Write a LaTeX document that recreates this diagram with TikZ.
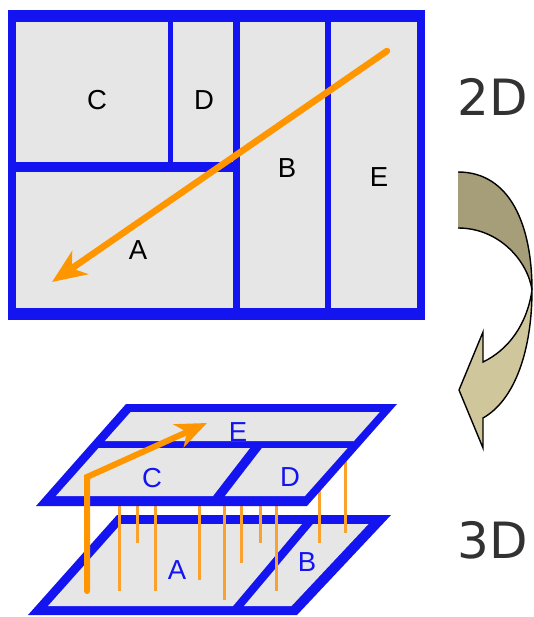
\documentclass[tikz,border=0pt]{standalone}
\usepackage{fontspec}
\setmainfont{Liberation Sans}
\newfontfamily\djv{DejaVu Sans}
\usetikzlibrary{arrows.meta}
\definecolor{pblue}{RGB}{20,20,240}
\definecolor{porange}{RGB}{255,150,0}
\definecolor{plorange}{RGB}{250,162,45}
\definecolor{pgray}{RGB}{230,230,230}
\definecolor{banddark}{RGB}{166,157,121}
\definecolor{bandlight}{RGB}{207,199,155}
\definecolor{dimtext}{RGB}{50,50,50}
\tikzset{
  cell/.style={fill=pgray},
  frame/.style={fill=pblue},
  lab/.style={inner sep=0pt, font=\fontsize{27.5}{27.5}\selectfont},
  lab3/.style={lab, text=pblue},
  biglab/.style={inner sep=0pt, text=dimtext, font=\djv\fontsize{50}{50}\selectfont},
  bigarrow/.style={porange, line width=6.5pt, line cap=round, -{Stealth[length=34pt,width=28pt,inset=10pt]}},
  flatarrow/.style={porange, line width=6pt, line cap=round, line join=miter, -{Stealth[length=31pt,width=25pt,inset=9pt]}},
  pillar/.style={plorange, line width=3pt},
  bandline/.style={black, line width=1.4pt},
}
\begin{document}
\begin{tikzpicture}[x=1pt,y=-1pt]
\useasboundingbox (0,0) rectangle (533,617);
% ---------- 2D map ----------
\fill[frame] (8,10) rectangle (425,320);
\fill[cell] (16,22) rectangle (168,162);
\fill[cell] (173,22) rectangle (233,162);
\fill[cell] (16,172) rectangle (233,308);
\fill[cell] (240,22) rectangle (325,308);
\fill[cell] (331,22) rectangle (417,308);
\node[lab] (tC) at (97,100) {C};
\node[lab] (tD) at (204,100) {D};
\node[lab] (tB) at (287,168) {B};
\node[lab] (tE) at (379,177) {E};
\node[lab] (tA) at (138,250) {A};
\coordinate (tArrS) at (387,51);
\coordinate (tArrE) at (52,282);
\draw[bigarrow] (tArrS) -- (tArrE);
% ---------- curved arrow ----------
\fill[banddark] (458,172) .. controls (510,172) and (532,225) .. (532,290) .. controls (528,262) and (500,228) .. (458,228) -- cycle;
\draw[bandline] (458,172) .. controls (510,172) and (532,225) .. (532,290);
\draw[bandline] (458,228) .. controls (500,228) and (528,262) .. (532,290);
\filldraw[fill=bandlight, draw=black, line width=1.4pt, line join=miter]
  (532,290) .. controls (532,350) and (515,400) .. (483,418) -- (483,448) -- (459,390) -- (483,332) -- (483,362) .. controls (508,350) and (527,325) .. (532,290) -- cycle;
\node[biglab] (l2D) at (493,97) {2D};
\node[biglab] (l3D) at (493,540) {3D};
% ---------- bottom plane ----------
\fill[frame] (117,515) -- (391,515) -- (297,615) -- (28,615) -- cycle;
\fill[cell] (121,524) -- (302,524) -- (233,606) -- (48,606) -- cycle;
\fill[cell] (313,524) -- (368.5,524) -- (291.5,606) -- (244,606) -- cycle;
\node[lab3] (bA) at (177,570) {A};
\node[lab3] (bB) at (307,562) {B};
% ---------- pillars ----------
\foreach \px/\py in {119.3/591, 137.3/543, 155/591, 199/580, 224.3/600, 241.7/563, 260/543, 276.7/591, 319.3/543, 345.7/533}
  \draw[pillar] (\px,455) -- (\px,\py);
% ---------- top plane ----------
\fill[frame] (126,404) -- (397,404) -- (307,506) -- (36,506) -- cycle;
\fill[cell] (130.7,412) -- (379.7,412) -- (353.9,441) -- (104.9,441) -- cycle;
\fill[cell] (98.6,448) -- (250,448) -- (213,496) -- (55.9,496) -- cycle;
\fill[cell] (262,448) -- (347.6,448) -- (304.9,496) -- (225,496) -- cycle;
\node[lab3] (uE) at (238,432) {E};
\node[lab3] (uC) at (152,478) {C};
\node[lab3] (uD) at (290,477) {D};
% ---------- path arrow ----------
\coordinate (pS) at (87,591);
\coordinate (pB) at (87,477);
\coordinate (pT) at (207,423);
\draw[flatarrow] (pS) -- (pB) -- (pT);
\end{tikzpicture}
\end{document}
